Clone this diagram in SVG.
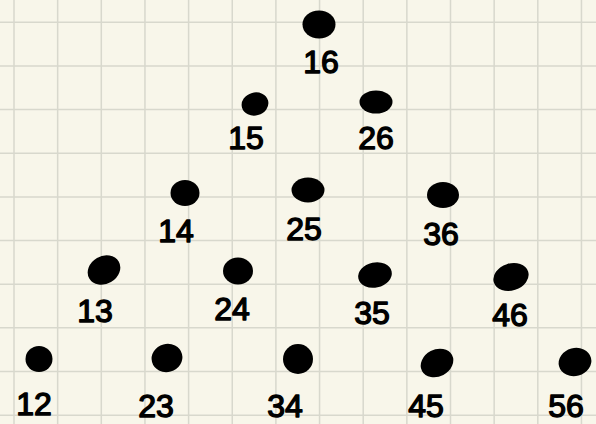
<svg xmlns="http://www.w3.org/2000/svg" width="596" height="424" viewBox="0 0 596 424">
<style>
.dot{fill:#000}
.lbl{font-family:"Liberation Sans","DejaVu Sans",sans-serif;font-size:32px;fill:#000;stroke:#000;stroke-width:1.4;text-anchor:middle;stroke-linejoin:round}
.grid{stroke:#d8d8cd;stroke-width:1.5;fill:none}
</style>
<rect width="596" height="424" fill="#f8f6ea"/>
<path class="grid" d="M14 0V424M57.65 0V424M101.3 0V424M144.95 0V424M188.6 0V424M232.25 0V424M275.9 0V424M319.55 0V424M363.2 0V424M406.85 0V424M450.5 0V424M494.15 0V424M537.8 0V424M581.45 0V424M0 22.3H596M0 65.95H596M0 109.6H596M0 153.25H596M0 196.9H596M0 240.55H596M0 284.2H596M0 327.85H596M0 371.5H596M0 415.15H596"/>
<g id="n16"><ellipse class="dot" cx="319" cy="24.5" rx="16.5" ry="14"/><text class="lbl" x="321" y="73">16</text></g>
<g id="n15"><ellipse class="dot" cx="255" cy="104" rx="13.5" ry="11.5" transform="rotate(-15 255 104)"/><text class="lbl" x="246" y="149">15</text></g>
<g id="n26"><ellipse class="dot" cx="376" cy="102" rx="16.5" ry="11.5"/><text class="lbl" x="376" y="149">26</text></g>
<g id="n14"><ellipse class="dot" cx="185" cy="193" rx="14.5" ry="13"/><text class="lbl" x="176" y="242">14</text></g>
<g id="n25"><ellipse class="dot" cx="308" cy="190" rx="16.5" ry="12.5"/><text class="lbl" x="304" y="240">25</text></g>
<g id="n36"><ellipse class="dot" cx="443" cy="195" rx="16" ry="13"/><text class="lbl" x="441" y="245">36</text></g>
<g id="n13"><ellipse class="dot" cx="104" cy="270" rx="17" ry="14" transform="rotate(-30 104 270)"/><text class="lbl" x="95" y="322">13</text></g>
<g id="n24"><ellipse class="dot" cx="238" cy="271" rx="15" ry="13.5"/><text class="lbl" x="232" y="320">24</text></g>
<g id="n35"><ellipse class="dot" cx="375" cy="275" rx="17" ry="12.5" transform="rotate(-12 375 275)"/><text class="lbl" x="372" y="324">35</text></g>
<g id="n46"><ellipse class="dot" cx="511" cy="277" rx="18" ry="13.5" transform="rotate(-18 511 277)"/><text class="lbl" x="510" y="326">46</text></g>
<g id="n12"><ellipse class="dot" cx="39" cy="359" rx="13.5" ry="13"/><text class="lbl" x="34" y="415">12</text></g>
<g id="n23"><ellipse class="dot" cx="167" cy="358" rx="15.5" ry="14" transform="rotate(-15 167 358)"/><text class="lbl" x="156" y="417">23</text></g>
<g id="n34"><ellipse class="dot" cx="298" cy="359" rx="15" ry="15"/><text class="lbl" x="285" y="417">34</text></g>
<g id="n45"><ellipse class="dot" cx="437" cy="363" rx="17" ry="13.5" transform="rotate(-28 437 363)"/><text class="lbl" x="426" y="417">45</text></g>
<g id="n56"><ellipse class="dot" cx="575" cy="362" rx="16.5" ry="14" transform="rotate(-15 575 362)"/><text class="lbl" x="566" y="417">56</text></g>
</svg>
